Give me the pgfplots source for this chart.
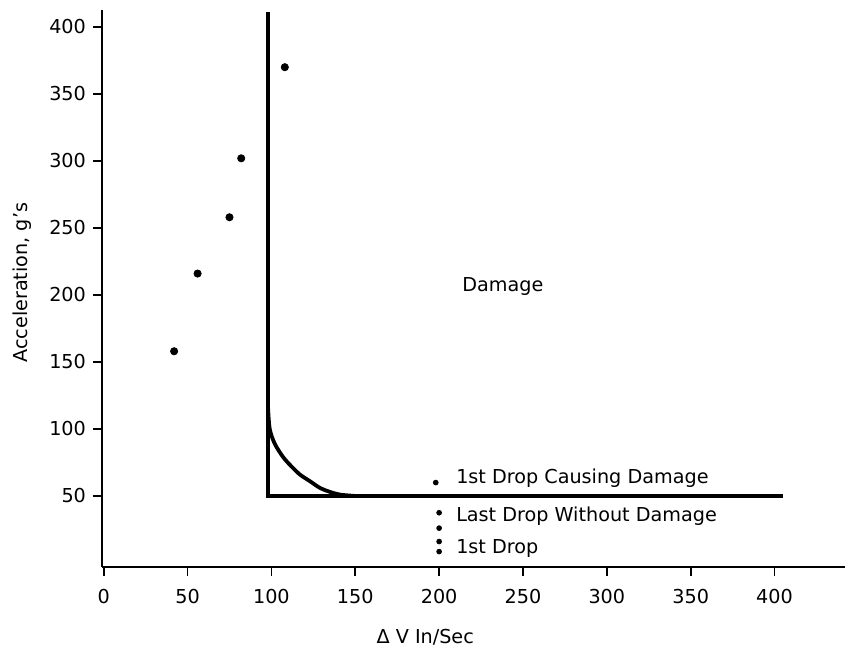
\documentclass[border=0pt]{standalone}
\usepackage{fontspec}
\setmainfont{DejaVu Sans}
\usepackage{pgfplots}
\pgfplotsset{compat=1.18}

\begin{document}
\begin{tikzpicture}
\begin{axis}[
  name=ax,
  scale only axis,
  width=371.5pt, height=278.7pt,
  xmin=-1, xmax=442,
  ymin=-3, ymax=413,
  axis lines=left,
  axis line style={-, line width=1pt},
  xtick={0,50,...,400},
  ytick={50,100,...,400},
  tick align=outside,
  major tick length=4.5pt,
  tick style={black, line width=0.9pt},
  tick label style={font=\fontsize{9.6}{11}\selectfont},
  /pgf/number format/assume math mode=true,
  xticklabel style={yshift=-3pt},
  xlabel={Δ V In/Sec},
  ylabel={Acceleration, g's},
  label style={font=\fontsize{9.6}{11}\selectfont},
  xlabel style={at={(ticklabel cs:0.435)}, anchor=north, yshift=-6pt},
  ylabel style={at={(ticklabel cs:0.51)}, anchor=south, yshift=2pt},
  clip=false,
]
% damage boundary
\addplot[black, line width=2.3pt, line join=miter] coordinates {
  (98,411) (98,50) (405,50)
};
\addplot[black, line width=1.9pt, smooth] coordinates {
  (98,116) (99,100) (102,89) (107,79) (112,72) (117,66) (123,61)
  (129,56) (135,53) (141,51) (150,50)
};
% test drops
\addplot[only marks, mark=*, mark size=1.8pt, black] coordinates {
  (42,158) (56,216) (75,258) (82,302) (108,370)
};
\addplot[only marks, mark=*, mark size=1.2pt, black] coordinates {
  (198,60) (200,37.5) (200,26) (200,16) (200,8.5)
};
\node[anchor=west, font=\fontsize{9.6}{11}\selectfont] at (axis cs:206,63) {1st Drop Causing Damage};
\node[anchor=west, font=\fontsize{9.6}{11}\selectfont] at (axis cs:206,35) {Last Drop Without Damage};
\node[anchor=west, font=\fontsize{9.6}{11}\selectfont] at (axis cs:206,11) {1st Drop};
\node[font=\fontsize{9.6}{11}\selectfont] at (axis cs:238,206) {Damage};
\end{axis}
\path ([shift={(-51pt,-47.5pt)}]ax.south west) rectangle ([shift={(382.5pt,283.5pt)}]ax.south west);
\end{tikzpicture}
\end{document}
